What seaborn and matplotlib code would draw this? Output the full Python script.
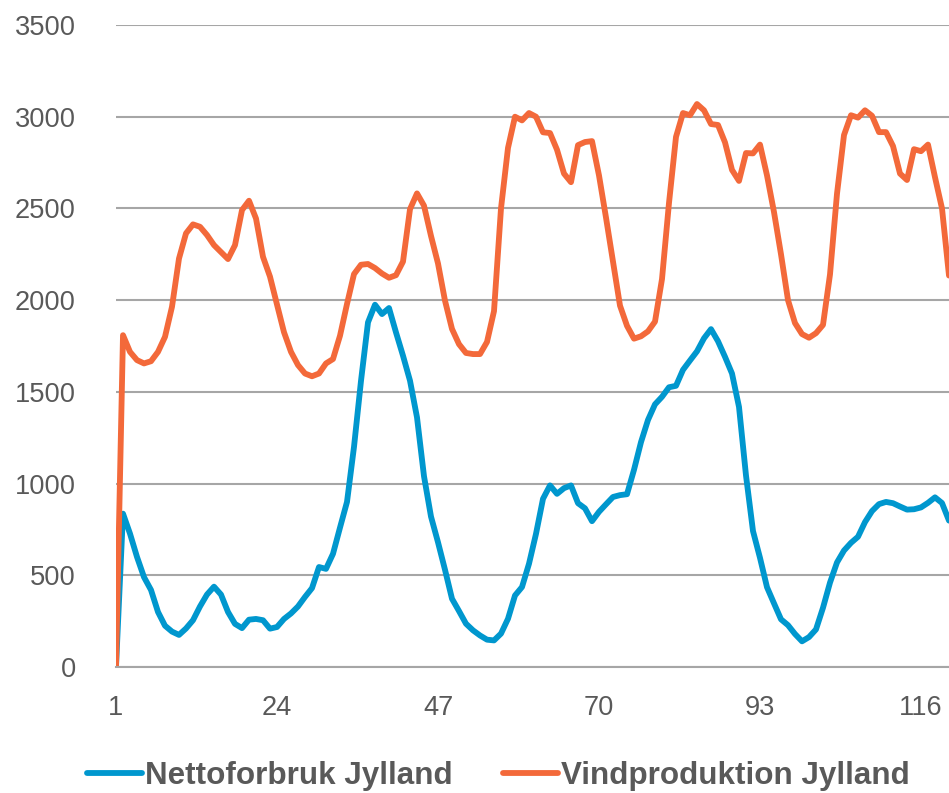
import pandas as pd
import matplotlib
matplotlib.use("Agg")
import matplotlib.pyplot as plt
import seaborn as sns

# hourly values, Jylland
hours = list(range(1, 121))
netto = [0, 836, 727, 600, 490, 420, 300, 225, 193, 175,
         210, 255, 330, 395, 438, 395, 300, 235, 212, 258,
         262, 255, 209, 218, 262, 292, 330, 382, 430, 545,
         535, 617, 760, 900, 1200, 1560, 1879, 1975, 1924, 1957,
         1824, 1697, 1561, 1361, 1040, 820, 680, 530, 372, 305,
         236, 200, 172, 149, 145, 182, 263, 390, 436, 563,
         726, 917, 990, 944, 975, 990, 893, 865, 795, 846,
         887, 927, 937, 942, 1075, 1226, 1347, 1432, 1473, 1525,
         1533, 1620, 1671, 1721, 1792, 1842, 1776, 1691, 1600, 1418,
         1044, 741, 595, 435, 347, 260, 228, 180, 140, 163,
         205, 323, 460, 570, 635, 677, 710, 790, 850, 888,
         900, 893, 875, 858, 860, 870, 895, 925, 894, 798]
vind = [0, 1809, 1718, 1673, 1655, 1667, 1718, 1800, 1964, 2227,
        2364, 2413, 2400, 2355, 2300, 2262, 2224, 2300, 2491, 2542,
        2445, 2236, 2128, 1976, 1825, 1718, 1646, 1600, 1585, 1600,
        1655, 1679, 1806, 1979, 2142, 2193, 2197, 2175, 2145, 2122,
        2136, 2210, 2496, 2582, 2515, 2350, 2200, 1997, 1843, 1760,
        1712, 1706, 1706, 1772, 1940, 2500, 2830, 3000, 2980, 3020,
        3000, 2915, 2911, 2820, 2690, 2643, 2845, 2862, 2867, 2680,
        2450, 2210, 1970, 1860, 1790, 1803, 1830, 1883, 2115, 2530,
        2890, 3020, 3008, 3069, 3035, 2960, 2955, 2860, 2710, 2650,
        2802, 2800, 2848, 2680, 2480, 2250, 2000, 1875, 1815, 1795,
        1820, 1865, 2140, 2580, 2900, 3008, 2995, 3035, 3005, 2916,
        2916, 2840, 2690, 2655, 2823, 2812, 2848, 2670, 2500, 2134]
series_names = ["Nettoforbruk Jylland", "Vindproduktion Jylland"]
colors = ["#0097CE", "#F3693A"]
x_ticks = [1, 24, 47, 70, 93, 116]
y_ticks = list(range(0, 3501, 500))

df = pd.DataFrame({
    "hour": hours * 2,
    "value": netto + vind,
    "series": [series_names[0]] * len(hours) + [series_names[1]] * len(hours),
})

sns.set_theme(style="white")
plt.rcParams["font.family"] = ["Liberation Sans", "DejaVu Sans"]

fig = plt.figure(figsize=(9.49, 7.93), dpi=100)
ax = fig.add_axes([116 / 949, 126 / 793, 833 / 949, 642 / 793])

sns.lineplot(data=df, x="hour", y="value", hue="series",
             hue_order=series_names, palette=dict(zip(series_names, colors)),
             linewidth=4.2, estimator=None, sort=False, ax=ax)

ax.set_xlim(1, 120)
ax.set_ylim(0, 3500)
ax.set_xticks(x_ticks)
ax.set_yticks(y_ticks)
ax.set_xlabel("")
ax.set_ylabel("")
ax.grid(axis="y", color="#A6A6A6", linewidth=1.5)
ax.grid(axis="x", visible=False)
ax.set_axisbelow(True)
for side in ["top", "right", "left"]:
    ax.spines[side].set_visible(False)
ax.spines["bottom"].set_color("#A6A6A6")
ax.spines["bottom"].set_linewidth(1.5)
ax.tick_params(axis="y", length=0, pad=29, labelsize=19.6, labelcolor="#595959")
ax.tick_params(axis="x", length=0, pad=20, labelsize=19.6, labelcolor="#595959")

handles, labels = ax.get_legend_handles_labels()
ax.get_legend().remove()
leg = fig.legend(handles, labels, loc="center", bbox_to_anchor=(0.525, 0.022),
                 ncol=2, frameon=False, handlelength=1.75, handletextpad=0.1,
                 columnspacing=1.6, prop={"weight": "bold", "size": 22.6})
for t in leg.get_texts():
    t.set_color("#595959")
for h in leg.get_lines():
    h.set_linewidth(4.2)

fig.savefig("out.png", dpi=100)
